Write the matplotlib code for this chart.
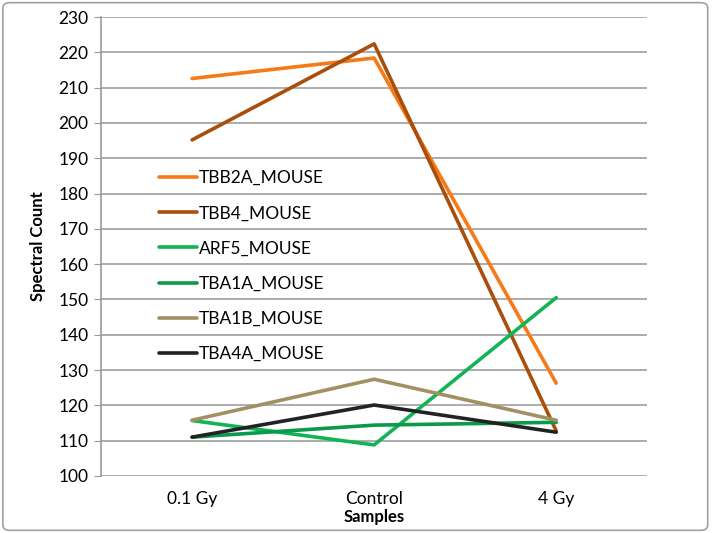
import matplotlib
matplotlib.use("Agg")
import matplotlib.pyplot as plt
from matplotlib.patches import FancyBboxPatch

# data
samples = ["0.1 Gy", "Control", "4 Gy"]
tbb2a = [212.6, 218.4, 126.3]
tbb4 = [195.2, 222.4, 112.8]
arf5 = [115.7, 108.8, 150.5]
tba1a = [111.0, 114.4, 115.2]
tba1b = [115.8, 127.4, 115.8]
tba4a = [111.0, 120.1, 112.4]

series = [
    ("TBB2A_MOUSE", tbb2a, "#F67A16"),
    ("TBB4_MOUSE", tbb4, "#AA4E0C"),
    ("ARF5_MOUSE", arf5, "#12B455"),
    ("TBA1A_MOUSE", tba1a, "#0A9A4A"),
    ("TBA1B_MOUSE", tba1b, "#A19162"),
    ("TBA4A_MOUSE", tba4a, "#222222"),
]

plt.rcParams['font.family'] = ['Lato', 'DejaVu Sans']

fig = plt.figure(figsize=(7.12, 5.33), dpi=100)
ax = fig.add_axes([0.142, 0.107, 0.767, 0.861])

x = list(range(len(samples)))
for name, vals, col in series:
    ax.plot(x, vals, color=col, lw=2.6, label=name, solid_capstyle='round')

ax.set_xlim(-0.5, len(samples) - 0.5)
ax.set_ylim(100, 230)
ax.set_yticks(range(100, 231, 10))
ax.set_xticks(x)
ax.set_xticklabels(samples, fontsize=12.5)
ax.tick_params(axis='y', labelsize=12.5, length=5, color='#999999', direction='out', pad=4)
ax.tick_params(axis='x', length=0, pad=11)
ax.yaxis.grid(True, color='#A6A6A6', lw=1.3)
ax.set_axisbelow(True)
for s in ['top', 'right', 'bottom']:
    ax.spines[s].set_visible(False)
ax.spines['left'].set_color('#999999')
ax.spines['left'].set_linewidth(1.2)

ax.set_ylabel("Spectral Count", fontsize=12, fontweight='bold', labelpad=9)
ax.set_xlabel("Samples", fontsize=12, fontweight='bold', labelpad=1)

leg = ax.legend(loc='upper left', bbox_to_anchor=(0.09, 0.685), frameon=False,
                fontsize=12.5, handlelength=2.2, handletextpad=0.12,
                labelspacing=1.1, borderpad=0)

fig.patches.append(FancyBboxPatch((0.004, 0.005), 0.99, 0.99,
                                  boxstyle="round,pad=0,rounding_size=0.01",
                                  transform=fig.transFigure, fill=False,
                                  edgecolor='#A0A0A0', lw=1.2))

fig.savefig("out.png", dpi=100)
